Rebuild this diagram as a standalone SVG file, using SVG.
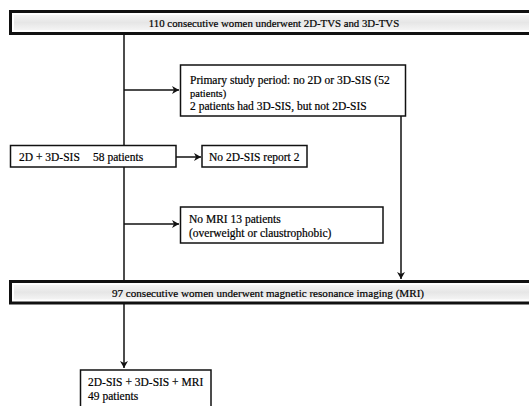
<svg xmlns="http://www.w3.org/2000/svg" width="529" height="406" viewBox="0 0 529 406">
<style>
  text { font-family: "Liberation Serif", "Times New Roman", serif; font-size: 11.5px; fill: #000; stroke: #000; stroke-width: 0.2; }
  .small { font-size: 10.5px; }
  .box { fill: #fff; stroke: #111; stroke-width: 1.5; }
  .wide { fill: #fff; stroke: #111; stroke-width: 3; }
  .band { fill: url(#g); }
  .line { stroke: #111; stroke-width: 1.5; fill: none; }
</style>
<defs>
  <linearGradient id="g" x1="0" y1="0" x2="0" y2="1">
    <stop offset="0" stop-color="#f4f4f4"/>
    <stop offset="0.5" stop-color="#e6e6e6"/>
    <stop offset="1" stop-color="#f4f4f4"/>
  </linearGradient>
  <marker id="arr" markerWidth="10" markerHeight="10" refX="8" refY="5" orient="auto" markerUnits="userSpaceOnUse">
    <path d="M1,1 L8,5 L1,9 L3,5 Z" fill="#111"/>
  </marker>
</defs>
<rect width="529" height="406" fill="#fff"/>
<g id="connectors">
  <line class="line" x1="124" y1="34" x2="124" y2="368" marker-end="url(#arr)"/>
  <line class="line" x1="124" y1="90" x2="179" y2="90" marker-end="url(#arr)"/>
  <line class="line" x1="176" y1="157" x2="201" y2="157" marker-end="url(#arr)"/>
  <line class="line" x1="124" y1="224" x2="179" y2="224" marker-end="url(#arr)"/>
  <line class="line" x1="401" y1="116" x2="401" y2="279" marker-end="url(#arr)"/>
</g>
<g id="n-top">
  <rect class="wide" x="10.5" y="11.5" width="530" height="22"/>
  <rect class="band" x="14" y="15" width="523" height="15"/>
  <text x="274" y="26.5" text-anchor="middle" style="font-size:10.8px">110 consecutive women underwent 2D-TVS and 3D-TVS</text>
</g>
<g id="n-primary">
  <rect class="box" x="180.5" y="65" width="225" height="51"/>
  <text x="190" y="84">Primary study period: no 2D or 3D-SIS (52</text>
  <text class="small" x="190" y="97">patients)</text>
  <text x="190" y="110">2 patients had 3D-SIS, but not 2D-SIS</text>
</g>
<g id="n-sis">
  <rect class="box" x="10.5" y="145.5" width="165.5" height="21.5"/>
  <text x="19" y="161">2D + 3D-SIS</text>
  <text x="93" y="161">58 patients</text>
</g>
<g id="n-noreport">
  <rect class="box" x="202" y="145.5" width="105" height="21.5"/>
  <text x="209" y="161">No 2D-SIS report 2</text>
</g>
<g id="n-nomri">
  <rect class="box" x="180.5" y="207" width="202.5" height="36"/>
  <text x="189" y="223">No MRI 13 patients</text>
  <text x="189" y="236.5">(overweight or claustrophobic)</text>
</g>
<g id="n-mri">
  <rect class="wide" x="10.5" y="281.5" width="530" height="21.5"/>
  <rect class="band" x="14" y="285" width="523" height="14.5"/>
  <text x="268" y="296.5" text-anchor="middle" style="font-size:11.1px">97 consecutive women underwent magnetic resonance imaging (MRI)</text>
</g>
<g id="n-final">
  <rect class="box" x="80.5" y="370" width="130.5" height="45"/>
  <text x="88" y="386">2D-SIS + 3D-SIS + MRI</text>
  <text x="88" y="400">49 patients</text>
</g>
</svg>
